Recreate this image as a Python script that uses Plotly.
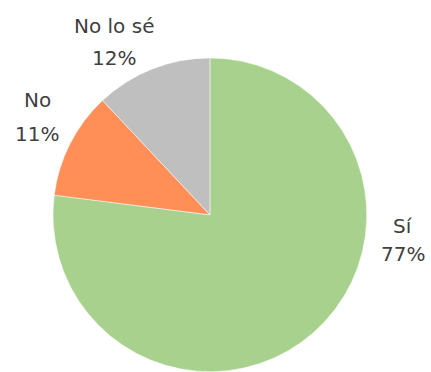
import plotly.graph_objects as go

labels = ["Sí", "No", "No lo sé"]
values = [77, 11, 12]
colors = ["#A9D18E", "#FF8F57", "#BFBFBF"]

# label placement (paper coords): (x, y_label, y_percent)
label_pos = [(0.936, 0.392, 0.317), (0.087, 0.731, 0.640), (0.265, 0.930, 0.844)]

fig = go.Figure(go.Pie(
    labels=labels, values=values, sort=False, direction="clockwise", rotation=0,
    marker=dict(colors=colors, line=dict(color="white", width=0.5)),
    textinfo="none", hoverinfo="label+percent", showlegend=False,
    domain=dict(x=[0.123, 0.851], y=[0.0, 0.845]),
))

total = sum(values)
font = dict(family="DejaVu Sans", size=20, color="#404040")
for lab, val, (x, yl, yp) in zip(labels, values, label_pos):
    fig.add_annotation(x=x, y=yl, xref="paper", yref="paper", text=lab, showarrow=False,
                       xanchor="center", yanchor="middle", font=font)
    fig.add_annotation(x=x, y=yp, xref="paper", yref="paper", text=f"{round(100*val/total)}%",
                       showarrow=False, xanchor="center", yanchor="middle", font=font)

fig.update_layout(width=431, height=372, margin=dict(l=0, r=0, t=0, b=0),
                  paper_bgcolor="white", plot_bgcolor="white")
fig.write_html("out.html", config={"displayModeBar": False},
               post_script="document.body.style.margin='0';")
